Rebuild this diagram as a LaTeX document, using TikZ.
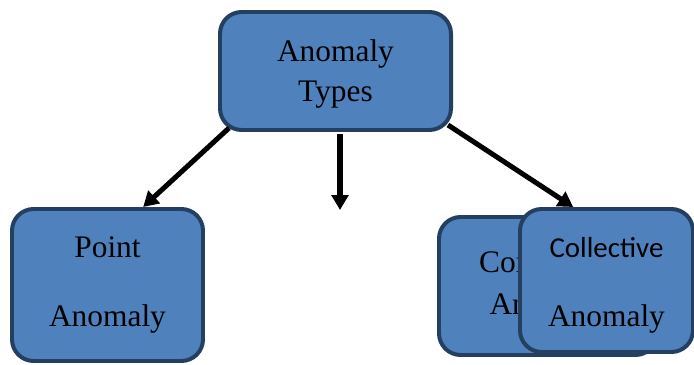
\documentclass[tikz,border=0pt]{standalone}
\usepackage{fontspec}
\setmainfont{Liberation Serif}
\newfontfamily\calibrifont{Carlito}
\usetikzlibrary{arrows.meta}
\definecolor{boxfill}{HTML}{4F81BD}
\definecolor{boxline}{HTML}{243F60}
\tikzset{
      typebox/.style={
        rounded corners=0.65cm,
        draw=boxline,
        line width=3.4pt,
        fill=boxfill,
        align=center,
        inner sep=0pt
      },
      flowarrow/.style={
        -{Triangle[length=0.45cm,width=0.5cm]},
        line width=4.3pt,
        color=black
      }
    }

\begin{document}
\begin{tikzpicture}[x=0.03cm,y=-0.03cm]
    \useasboundingbox (0,0) rectangle (694,365);
    \node[typebox, minimum width=6.93cm, minimum height=3.54cm, font=\fontsize{26.8}{34.1}\selectfont] (types) at (335.5,71) {\rule{0pt}{23pt}Anomaly\\Types};
    \node[typebox, minimum width=5.73cm, minimum height=4.56cm, font=\fontsize{26.8}{58.9}\selectfont] (point) at (107.5,285) {Point\\Anomaly};
    \node[typebox, minimum width=6.54cm, minimum height=4.14cm, font=\fontsize{26.8}{36.6}\selectfont] (contextual) at (548,286) {Contextual\\Anomaly};
    \node[typebox, minimum width=5.19cm, minimum height=4.29cm, font=\fontsize{26.8}{58.9}\selectfont] (collective) at (606.5,280.5) {{\calibrifont\fontsize{24.7}{58.9}\selectfont\rule{0pt}{26pt}Collective}\\Anomaly};
    \coordinate (gap) at (340,210);
    \draw[flowarrow] ([shift={(11,-4)}]types.south west) -- ([xshift=1.07cm]point.north);
    \draw[flowarrow] ([shift={(4.5,2)}]types.south) -- (gap);
    \draw[flowarrow] ([shift={(-5,-7)}]types.south east) -- ([xshift=-1cm]collective.north);
    \end{tikzpicture}
\end{document}
